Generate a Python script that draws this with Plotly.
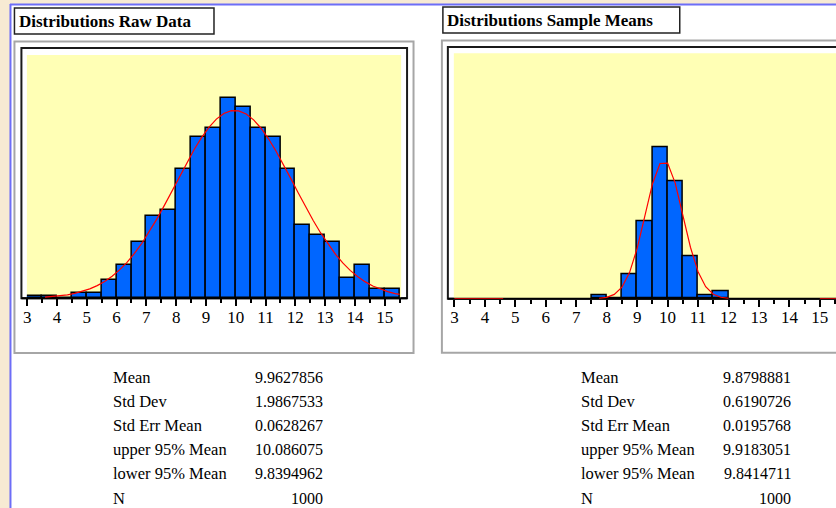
import math
import numpy as np
import plotly.graph_objects as go

W, H = 836, 508

# ---- data -------------------------------------------------------------
raw_bin_left = [3.0, 3.5, 4.0, 4.5, 5.0, 5.5, 6.0, 6.5, 7.0, 7.5, 8.0, 8.5, 9.0,
                9.5, 10.0, 10.5, 11.0, 11.5, 12.0, 12.5, 13.0, 13.5, 14.0, 14.5, 15.0]
raw_counts = [1, 1, 0, 3, 3, 10, 18, 30, 44, 47, 69, 86, 91,
              107, 102, 91, 86, 69, 39, 34, 30, 11, 18, 5, 5]

mean_bin_left = [7.5, 8.0, 8.5, 9.0, 9.5, 10.0, 10.5, 11.0, 11.5]
mean_counts = [8, 0, 58, 181, 354, 273, 100, 8, 18]

bin_width = 0.5

stat_labels = ["Mean", "Std Dev", "Std Err Mean", "upper 95% Mean", "lower 95% Mean", "N"]
raw_stats = ["9.9627856", "1.9867533", "0.0628267", "10.086075", "9.8394962", "1000"]
mean_stats = ["9.8798881", "0.6190726", "0.0195768", "9.9183051", "9.8414711", "1000"]

tick_values = list(range(3, 16))
tick_labels = [str(v) for v in tick_values]

# x extents over which each fitted normal curve is drawn
raw_fit_spans = [(3.6, 15.5)]
mean_fit_spans = [(3.0, 4.6), (7.75, 12.0), (15.0, 15.6)]

# ---- colours / fonts --------------------------------------------------
TAN = "#F7EAD3"
BLUE_RULE = "#6D6DF7"
YELLOW = "#FFFFB5"
BAR = "#0066FF"
SERIF = "Liberation Serif"


def px(x):
    return x / W


def py(y):
    return 1 - y / H


def normal_fit(stats, spans):
    mu = float(stats[0])
    sd = float(stats[1])
    n = float(stats[5])
    xs, ys = [], []
    for a, b in spans:
        grid = np.arange(a, b + 1e-9, 0.25)
        if grid[-1] < b:
            grid = np.append(grid, b)
        for g in grid:
            xs.append(float(g))
            ys.append(n * bin_width * math.exp(-0.5 * ((g - mu) / sd) ** 2) / (sd * math.sqrt(2 * math.pi)))
        xs.append(None)
        ys.append(None)
    return xs, ys


fig = go.Figure()

# panel geometry in pixels
panels = [
    dict(xa="x", ya="y", bins=raw_bin_left, counts=raw_counts, stats=raw_stats, spans=raw_fit_spans,
         plot=(23, 55, 399, 298.3), yrange=[0, 130], xrange=[2.99, 15.55],
         gray=(10.5, 41.5, 411.5, 353), black=(17.5, 48, 405, 298.3),
         title="Distributions Raw Data", tbox=(10.5, 8, 211, 34), tx=13,
         lab_x=108, val_x=323),
    dict(xa="x2", ya="y2", bins=mean_bin_left, counts=mean_counts, stats=mean_stats, spans=mean_fit_spans,
         plot=(452, 53.3, 836, 298.7), yrange=[0, 572], xrange=[2.98, 15.53],
         gray=(440, 40.5, 860, 352.7), black=(446, 47, 850, 298.7),
         title="Distributions Sample Means", tbox=(441, 7, 679, 33), tx=443,
         lab_x=578, val_x=793),
]

shapes = []
annotations = []

# white sheet with blue rule on the top and left
shapes.append(dict(type="rect", xref="paper", yref="paper", x0=px(7), x1=px(W + 10),
                   y0=py(H + 10), y1=py(5), fillcolor="white", line=dict(width=0), layer="below"))
shapes.append(dict(type="line", xref="paper", yref="paper", x0=px(6.5), x1=px(6.5),
                   y0=py(4), y1=py(H + 5), line=dict(color=BLUE_RULE, width=2), layer="below"))
shapes.append(dict(type="line", xref="paper", yref="paper", x0=px(6), x1=px(W + 5),
                   y0=py(4.5), y1=py(4.5), line=dict(color=BLUE_RULE, width=2), layer="below"))

for i, p in enumerate(panels):
    gx0, gy0, gx1, gy1 = p["gray"]
    shapes.append(dict(type="rect", xref="paper", yref="paper", x0=px(gx0), x1=px(gx1),
                       y0=py(gy1), y1=py(gy0), line=dict(color="#A6A6A6", width=2), layer="below"))
    bx0, by0, bx1, by1 = p["black"]
    shapes.append(dict(type="rect", xref="paper", yref="paper", x0=px(bx0), x1=px(bx1),
                       y0=py(by1), y1=py(by0), line=dict(color="#1A1A1A", width=2), layer="below"))
    x0, y0, x1, y1 = p["plot"]
    shapes.append(dict(type="rect", xref="paper", yref="paper", x0=px(x0), x1=px(x1),
                       y0=py(y1), y1=py(y0), fillcolor=YELLOW, line=dict(width=0), layer="below"))
    # axis baseline across the whole inner frame
    shapes.append(dict(type="line", xref="paper", yref="paper", x0=px(bx0), x1=px(bx1),
                       y0=py(y1), y1=py(y1), line=dict(color="black", width=2), layer="below"))

    # title box
    tx0, ty0, tx1, ty1 = p["tbox"]
    shapes.append(dict(type="rect", xref="paper", yref="paper", x0=px(tx0), x1=px(tx1),
                       y0=py(ty1), y1=py(ty0), line=dict(color="#222222", width=1.5), layer="below"))
    annotations.append(dict(xref="paper", yref="paper", x=px(p["tx"]), y=py((ty0 + ty1) / 2 + 0.5),
                            xanchor="left", yanchor="middle", showarrow=False,
                            text="<b>" + p["title"] + "</b>",
                            font=dict(family=SERIF, size=17, color="black")))

    # summary statistics table
    for r, (lab, val) in enumerate(zip(stat_labels, p["stats"])):
        yc = 377 + 24.2 * r
        annotations.append(dict(xref="paper", yref="paper", x=px(p["lab_x"]), y=py(yc),
                                xanchor="left", yanchor="middle", showarrow=False, text=lab,
                                font=dict(family=SERIF, size=16.5, color="black")))
        annotations.append(dict(xref="paper", yref="paper", x=px(p["val_x"]), y=py(yc),
                                xanchor="right", yanchor="middle", showarrow=False, text=val,
                                font=dict(family=SERIF, size=16, color="black")))

    # histogram bars
    centers = [b + bin_width / 2 for b in p["bins"]]
    fig.add_trace(go.Bar(x=centers, y=p["counts"], width=bin_width,
                         marker=dict(color=BAR, line=dict(color="black", width=1.5)),
                         xaxis=p["xa"], yaxis=p["ya"], showlegend=False, hoverinfo="skip"))
    # fitted normal curve
    cx, cy = normal_fit(p["stats"], p["spans"])
    fig.add_trace(go.Scatter(x=cx, y=cy, mode="lines", line=dict(color="#FF0000", width=1.2),
                             xaxis=p["xa"], yaxis=p["ya"], showlegend=False, hoverinfo="skip",
                             cliponaxis=False))

    axis_x = dict(domain=[px(x0), min(px(x1), 1.0)], range=p["xrange"], anchor=p["ya"],
                  tickmode="array", tickvals=tick_values, ticktext=tick_labels,
                  ticks="outside", ticklen=7, tickwidth=1.5, tickcolor="black",
                  ticklabelstandoff=-4,
                  minor=dict(dtick=0.5, tick0=3, ticks="outside", ticklen=4, tickwidth=1.5, tickcolor="black"),
                  showgrid=False, zeroline=False, showline=False, fixedrange=True,
                  tickfont=dict(family=SERIF, size=17, color="black"))
    axis_y = dict(domain=[py(y1), py(y0)], range=p["yrange"], anchor=p["xa"],
                  visible=False, showgrid=False, zeroline=False, fixedrange=True)
    if i == 0:
        fig.update_layout(xaxis=axis_x, yaxis=axis_y)
    else:
        fig.update_layout(xaxis2=axis_x, yaxis2=axis_y)

fig.update_layout(
    width=W, height=H,
    margin=dict(l=0, r=0, t=0, b=0),
    paper_bgcolor=TAN,
    plot_bgcolor="rgba(0,0,0,0)",
    bargap=0,
    shapes=shapes,
    annotations=annotations,
    showlegend=False,
)

fig.write_html("out.html")
